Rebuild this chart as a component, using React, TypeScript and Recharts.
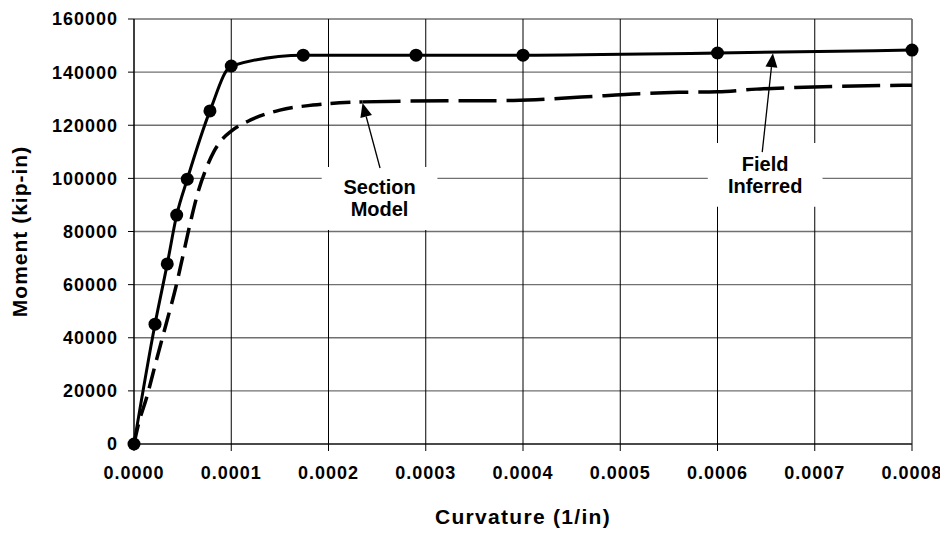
import { LineChart, Line, XAxis, YAxis, CartesianGrid, ReferenceArea, ReferenceLine } from 'recharts'

const curvatureTicks = [0, 0.0001, 0.0002, 0.0003, 0.0004, 0.0005, 0.0006, 0.0007, 0.0008]
const momentTicks = [0, 20000, 40000, 60000, 80000, 100000, 120000, 140000, 160000]

// field inferred (solid, with markers)
const fieldCurvature = [0, 0.0000216, 0.0000342, 0.0000439, 0.0000548, 0.0000781, 0.0001, 0.000174, 0.00029, 0.0004, 0.0006, 0.0008]
const fieldMoment = [0, 45100, 67800, 86200, 99700, 125400, 142300, 146400, 146400, 146400, 147200, 148300]

// section model (dashed)
const sectionCurvature = [
  0, 0.000005, 0.000013, 0.000023, 0.000034, 0.000043, 0.000051, 0.000059, 0.000066, 0.000074, 0.000082,
  0.00009, 0.0001, 0.00012, 0.00015, 0.000184, 0.000235, 0.00028, 0.00039, 0.00046, 0.00052, 0.00056,
  0.0006, 0.00064, 0.00068, 0.0008,
]
const sectionMoment = [
  0, 8000, 17500, 31500, 46500, 59000, 72000, 85000, 95000, 103500, 110000,
  114400, 117800, 122000, 125700, 127600, 128800, 129100, 129300, 130600, 131900, 132400,
  132600, 133600, 134200, 135100,
]

const fieldData = fieldCurvature.map((x, i) => ({ x, y: fieldMoment[i] }))
const sectionData = sectionCurvature.map((x, i) => ({ x, y: sectionMoment[i] }))
const splitAt = sectionCurvature.indexOf(0.000235)
const sectionLeft = sectionData.slice(0, splitAt + 1)
const sectionRight = sectionData.slice(splitAt)

const FONT = '"Liberation Sans", Arial, sans-serif'

function boxText(lines: string[]) {
  return (props: any) => {
    const { x, y, width, height } = props.viewBox
    const cx = x + width / 2
    const cy = y + height / 2
    return (
      <text x={cx} y={cy} textAnchor="middle" fontFamily={FONT} fontWeight="bold" fontSize={20} fill="#000" style={{ letterSpacing: 0 }}>
        <tspan x={cx} dy={-4}>{lines[0]}</tspan>
        <tspan x={cx} dy={22}>{lines[1]}</tspan>
      </text>
    )
  }
}

function arrow(props: any) {
  const { x1, y1, x2, y2 } = props
  const ang = Math.atan2(y2 - y1, x2 - x1)
  const len = 14
  const half = 6
  const bx = x2 - len * Math.cos(ang)
  const by = y2 - len * Math.sin(ang)
  const px = -Math.sin(ang) * half
  const py = Math.cos(ang) * half
  return (
    <g>
      <line x1={x1} y1={y1} x2={bx} y2={by} stroke="#000" strokeWidth={1.3} />
      <polygon points={`${x2},${y2} ${bx + px},${by + py} ${bx - px},${by - py}`} fill="#000" />
    </g>
  )
}

export default function App() {
  return (
    <div style={{ width: 940, height: 525, fontFamily: FONT, letterSpacing: '1px' }}>
      <LineChart width={940} height={525} margin={{ top: 11, right: 36, left: 0, bottom: 0 }}>
        <CartesianGrid horizontal={true} vertical={false} stroke="#707070" strokeWidth={1.4} />
        <CartesianGrid horizontal={false} vertical={true} stroke="#000" strokeWidth={1} />
        <ReferenceLine x={0.0008} stroke="#808080" strokeWidth={1.5} />
        <XAxis
          type="number"
          dataKey="x"
          domain={[0, 0.0008]}
          ticks={curvatureTicks}
          tickFormatter={(v: number) => v.toFixed(4)}
          height={89}
          tickSize={7}
          tickMargin={15}
          stroke="#000"
          tick={{ fill: '#000', fontSize: 18, fontWeight: 'bold', fontFamily: FONT }}
          label={{
            content: (p: any) => (
              <text x={p.viewBox.x + p.viewBox.width / 2} y={p.viewBox.y + 80} textAnchor="middle" fontFamily={FONT} fontWeight="bold" fontSize={21} fill="#000" style={{ letterSpacing: '1.3px' }}>
                Curvature (1/in)
              </text>
            ),
          }}
        />
        <YAxis
          type="number"
          dataKey="y"
          domain={[0, 160000]}
          ticks={momentTicks}
          width={126}
          tickSize={6}
          tickMargin={10}
          stroke="#000"
          tick={{ fill: '#000', fontSize: 18, fontWeight: 'bold', fontFamily: FONT }}
          label={{
            content: (p: any) => {
              const cy = p.viewBox.y + p.viewBox.height / 2
              return (
                <text x={19} y={cy} transform={`rotate(-90, 19, ${cy})`} textAnchor="middle" fontFamily={FONT} fontWeight="bold" fontSize={21} fill="#000" style={{ letterSpacing: '1px' }}>
                  Moment (kip-in)
                </text>
              )
            },
          }}
        />
        <ReferenceArea x1={0.000193} x2={0.000312} y1={80600} y2={104300} fill="#fff" fillOpacity={1} stroke="none" label={boxText(['Section', 'Model'])} />
        <ReferenceArea x1={0.00059} x2={0.000708} y1={89300} y2={113300} fill="#fff" fillOpacity={1} stroke="none" label={boxText(['Field', 'Inferred'])} />
        <ReferenceLine segment={[{ x: 0.000253, y: 103900 }, { x: 0.000235, y: 128400 }]} shape={arrow} />
        <ReferenceLine segment={[{ x: 0.000646, y: 109900 }, { x: 0.000657, y: 147100 }]} shape={arrow} />
        <Line data={sectionLeft} dataKey="y" type="monotone" stroke="#000" strokeWidth={3.5} strokeDasharray="20 9" dot={false} isAnimationActive={false} />
        <Line data={sectionRight} dataKey="y" type="monotone" stroke="#000" strokeWidth={3.5} strokeDasharray="38 10" dot={false} isAnimationActive={false} />
        <Line
          data={fieldData}
          dataKey="y"
          type="monotone"
          stroke="#000"
          strokeWidth={3}
          dot={{ r: 6.5, fill: '#000', stroke: '#000', strokeWidth: 0 }}
          isAnimationActive={false}
        />
      </LineChart>
    </div>
  )
}
